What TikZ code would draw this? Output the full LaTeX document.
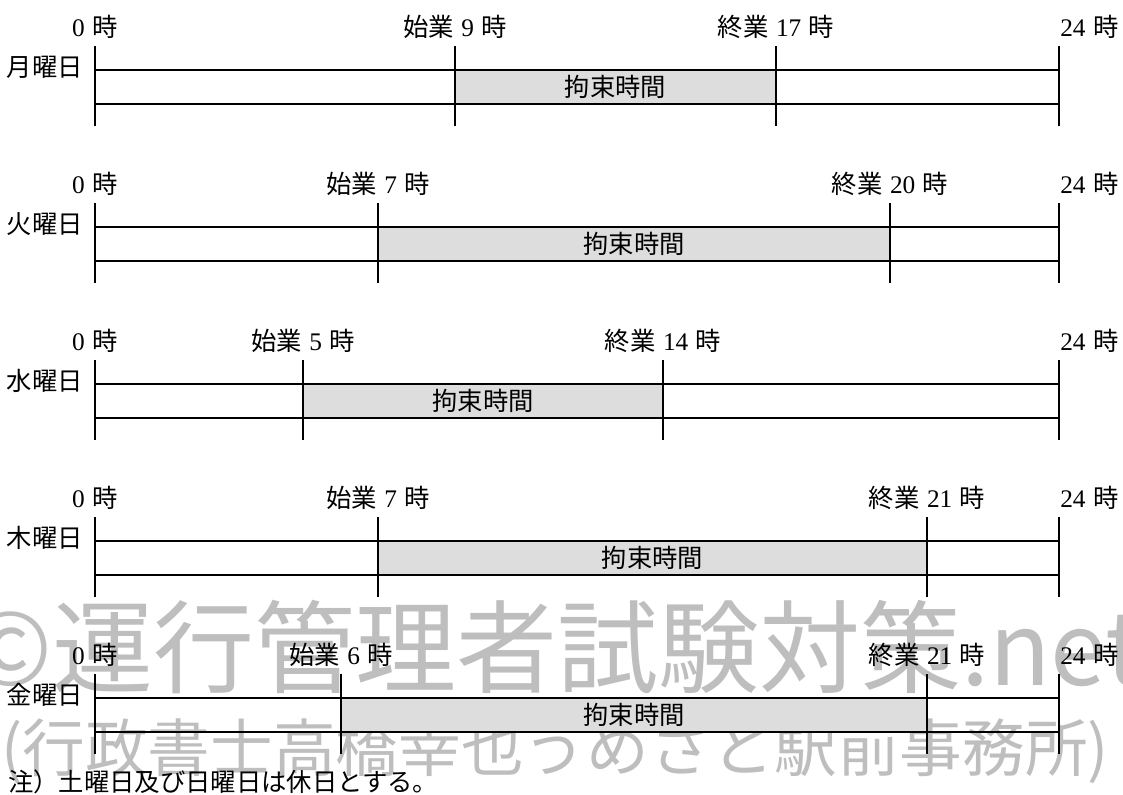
\documentclass[tikz,border=0pt]{standalone}
\usepackage{fontspec}
\setmainfont{Liberation Serif}
\newfontfamily\cjk{Noto Sans CJK JP}
\definecolor{wmgray}{RGB}{190,190,190}
\definecolor{boxgray}{RGB}{221,221,221}
\newcommand\Jt[1]{{\cjk #1}}
\tikzset{
  rowline/.style={line width=1.5pt, black},
  daylabel/.style={font=\cjk\fontsize{19}{21}\selectfont, inner sep=0pt},
  timelabel/.style={font=\fontsize{19}{21}\selectfont, inner sep=0pt},
  busy/.style={fill=boxgray, draw=none},
  wm/.style={text=wmgray, inner sep=0pt, anchor=west},
}
\begin{document}
\begin{tikzpicture}[x=0.75pt, y=-0.75pt]
\useasboundingbox (0,0) rectangle (1123,794);
% watermark
\node[wm, font=\cjk\fontsize{75.75}{80}\selectfont] (wm1) at (52,647) {\llap{©}運行管理者試験対策.net};
\node[wm, font=\cjk\fontsize{47}{50}\selectfont] (wm2) at (1,751) {(行政書士高橋幸也うめさと駅前事務所)};
% rows
\foreach \i/\yt/\day/\sx/\ex/\sh/\eh in {1/70/月/455/776/9/17, 2/227/火/378/890/7/20, 3/384/水/303/663/5/14, 4/541/木/378/927/7/21, 5/698/金/341/927/6/21}{
  \fill[busy] (\sx,\yt) rectangle (\ex,\yt+34);
  \coordinate (tl\i) at (95,\yt);
  \coordinate (tr\i) at (1059,\yt);
  \coordinate (bl\i) at (95,\yt+34);
  \coordinate (br\i) at (1059,\yt+34);
  \draw[rowline] (tl\i) -- (tr\i);
  \draw[rowline] (bl\i) -- (br\i);
  \draw[rowline] (95,\yt-24) -- (95,\yt+56);
  \draw[rowline] (1059,\yt-24) -- (1059,\yt+56);
  \draw[rowline] (\sx,\yt-24) -- (\sx,\yt+56);
  \draw[rowline] (\ex,\yt-24) -- (\ex,\yt+56);
  \node[daylabel] (day\i) at (45,\yt-3) {\day 曜日};
  \node[timelabel] (zero\i) at (95,\yt-43) {0\hspace{0.3em}\Jt{時}};
  \node[timelabel, anchor=west] (full\i) at (1060,\yt-43) {24\hspace{0.3em}\Jt{時}};
  \node[timelabel] (st\i) at (\sx,\yt-43) {\Jt{始業}\hspace{0.3em}\sh\hspace{0.3em}\Jt{時}};
  \node[timelabel] (en\i) at (\ex,\yt-43) {\Jt{終業}\hspace{0.3em}\eh\hspace{0.3em}\Jt{時}};
  \node[daylabel] (bt\i) at ({(\sx+\ex)/2},\yt+17) {拘束時間};
}
\node[daylabel, anchor=west] (note) at (8,782) {注）土曜日及び日曜日は休日とする。};
\end{tikzpicture}
\end{document}
